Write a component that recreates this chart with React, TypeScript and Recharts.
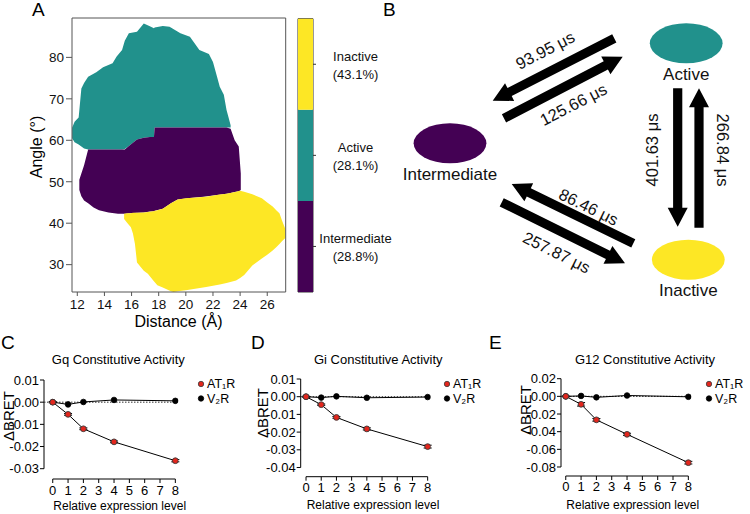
import React from 'react';
import {
  ComposedChart, Area, XAxis, YAxis, ReferenceArea, ReferenceLine,
  BarChart, Bar, ScatterChart, Scatter, LineChart, Line, ErrorBar,
} from 'recharts';

const FONT = '"Liberation Sans", Arial, Helvetica, sans-serif';
const PURPLE = '#440154';
const TEAL = '#21918c';
const YELLOW = '#fde725';
const RED = '#e3261d';
const stateColors: Record<string, string> = { Intermediate: PURPLE, Active: TEAL, Inactive: YELLOW };

// ---------------- Panel A: conformational landscape ----------------
const distanceTicks = [12, 14, 16, 18, 20, 22, 24, 26];
const angleTicks = [30, 40, 50, 60, 70, 80];
const distanceRange = [11.61, 27.36];
const angleRange = [23.4, 89.5];

// [distance (Å), lower angle (°), upper angle (°)]
const activeRegion: number[][] = [
  [11.62, 60.5, 63.0], [11.8, 59.5, 64.5], [12.1, 59.0, 65.5], [12.3, 58.5, 72.5],
  [12.5, 58.0, 73.8], [12.8, 57.8, 75.3], [13.4, 57.8, 76.4], [13.9, 57.8, 77.6],
  [14.6, 57.8, 78.6], [14.9, 57.8, 80.2], [15.3, 57.8, 81.8], [15.5, 57.9, 84.0],
  [15.8, 58.6, 85.8], [16.4, 60.2, 86.2], [16.9, 60.6, 88.2], [17.35, 60.8, 87.5],
  [17.65, 60.8, 87.0], [17.7, 63.1, 87.2], [18.3, 63.1, 87.6], [18.8, 63.1, 87.4],
  [19.6, 63.1, 85.8], [20.3, 63.1, 85.0], [21.0, 63.1, 81.8], [21.7, 63.1, 80.8],
  [22.0, 63.1, 78.9], [22.3, 63.1, 75.3], [22.5, 63.1, 72.9], [22.8, 63.1, 71.0],
  [23.0, 63.1, 67.3], [23.15, 63.1, 65.5], [23.3, 63.1, 63.6],
];
const intermediateRegion: number[][] = [
  [12.15, 48.0, 50.5], [12.3, 46.5, 52.0], [12.5, 45.5, 54.0], [12.8, 44.8, 57.8],
  [13.2, 43.8, 57.8], [13.6, 43.1, 57.8], [14.3, 42.6, 57.8], [15.0, 42.3, 57.8],
  [15.5, 42.3, 57.8], [15.8, 42.4, 58.6], [16.4, 42.5, 60.2], [16.9, 42.6, 60.6],
  [17.35, 42.8, 60.8], [17.65, 42.9, 60.8], [17.7, 43.0, 63.1], [18.3, 43.5, 63.1],
  [18.9, 44.8, 63.1], [19.4, 45.7, 63.1], [20.3, 46.1, 63.1], [21.3, 46.4, 63.1],
  [22.3, 46.8, 63.1], [23.0, 47.1, 63.1], [23.3, 47.3, 62.8], [23.6, 47.5, 60.0],
  [23.9, 47.7, 58.5], [24.05, 48.0, 52.0],
];
const inactiveRegion: number[][] = [
  [15.45, 41.0, 42.3], [15.7, 40.0, 42.4], [15.95, 39.0, 42.4], [16.1, 37.5, 42.5],
  [16.25, 35.0, 42.5], [16.4, 30.5, 42.5], [16.9, 28.5, 42.6], [17.2, 27.8, 42.7],
  [17.6, 26.2, 42.9], [17.9, 25.0, 43.1], [18.3, 24.5, 43.5], [18.9, 23.6, 44.8],
  [19.1, 23.4, 45.2], [19.4, 23.6, 45.7], [20.0, 23.8, 46.0], [21.5, 24.6, 46.4],
  [22.5, 25.2, 46.9], [23.0, 25.6, 47.1], [23.7, 26.2, 47.6], [24.0, 26.8, 47.8],
  [24.3, 27.5, 47.6], [24.9, 29.8, 47.0], [25.6, 31.5, 46.0], [26.0, 32.4, 45.0],
  [26.4, 33.4, 44.0], [26.7, 34.3, 43.0], [26.9, 35.0, 42.4], [27.1, 35.7, 40.5],
  [27.35, 36.5, 38.5],
];
const stateShares = [
  { state: 'Intermediate', share: 28.8 },
  { state: 'Active', share: 28.1 },
  { state: 'Inactive', share: 43.1 },
];

// ---------------- Panel B: transition kinetics ----------------
const stateNodes = [
  { state: 'Active', x: 306.2, y: 43.3 },
  { state: 'Intermediate', x: 70, y: 143.3 },
  { state: 'Inactive', x: 308.3, y: 259.7 },
];
const transitions = [
  { from: 'Active', to: 'Intermediate', time: '93.95 μs', x1: 234.3, y1: 38.3, x2: 112.7, y2: 100.7, lx: 165, ly: 50, angle: -27.2 },
  { from: 'Intermediate', to: 'Active', time: '125.66 μs', x1: 124, y1: 118.3, x2: 242.7, y2: 56.7, lx: 193.3, ly: 104.2, angle: -27.2 },
  { from: 'Active', to: 'Inactive', time: '401.63 μs', x1: 297.7, y1: 88.3, x2: 297.7, y2: 226.7, lx: 271.7, ly: 150, angle: -90 },
  { from: 'Inactive', to: 'Active', time: '266.84 μs', x1: 319, y1: 227.7, x2: 319, y2: 88.3, lx: 342.5, ly: 150, angle: 90 },
  { from: 'Inactive', to: 'Intermediate', time: '86.46 μs', x1: 253.3, y1: 243.3, x2: 131.7, y2: 184, lx: 208.7, ly: 206.7, angle: 26 },
  { from: 'Intermediate', to: 'Inactive', time: '257.87 μs', x1: 121.7, y1: 202.3, x2: 245, y2: 263.3, lx: 176.7, ly: 252.3, angle: 26.5 },
];

// ---------------- Panels C–E: constitutive activity ----------------
const expressionLevels = [0, 1, 2, 4, 8];
const expressionTicks = [0, 1, 2, 3, 4, 5, 6, 7, 8];
const gqAT1R = [0, -0.0055, -0.012, -0.0179, -0.0264];
const gqAT1RErr = [0.0003, 0.0004, 0.0004, 0.0004, 0.0005];
const gqV2R = [0, -0.001, 0.0001, 0.001, 0.0006];
const giAT1R = [0, -0.0045, -0.0117, -0.0182, -0.0282];
const giAT1RErr = [0.0003, 0.0004, 0.0005, 0.0006, 0.0008];
const giV2R = [0, -0.0005, 0.0002, -0.0006, -0.0002];
const g12AT1R = [0, -0.009, -0.0266, -0.043, -0.0751];
const g12AT1RErr = [0.0005, 0.002, 0.0015, 0.0012, 0.0015];
const g12V2R = [0, 0.0005, -0.0011, 0.001, -0.0005];
const gqTicks = [0.01, 0, -0.01, -0.02, -0.03];
const giTicks = [0.01, 0, -0.01, -0.02, -0.03, -0.04];
const g12Ticks = [0.02, 0, -0.02, -0.04, -0.06, -0.08];
const receptorEntries = [
  { label: 'AT₁R', color: RED, stroke: '#3a3a3a' },
  { label: 'V₂R', color: '#000', stroke: '#000' },
];

const buildRows = (at1r: number[], err: number[], v2r: number[]) =>
  expressionLevels.map((level, i) => ({ level, at1r: at1r[i], at1rErr: err[i], v2r: v2r[i] }));

// ---------------- helpers ----------------
const Txt = ({ cx, cy, size, rotate = 0, children }: any) => (
  <div
    style={{
      position: 'absolute', left: cx, top: cy, height: size,
      lineHeight: `${size}px`, fontSize: size, fontFamily: FONT,
      whiteSpace: 'nowrap', color: '#000',
      transform: `translate(-50%, -50%)${rotate ? ` rotate(${rotate}deg)` : ''}`,
      transformOrigin: 'center center',
    }}
  >
    {children}
  </div>
);

const PanelLetter = ({ left, top, children }: any) => (
  <div style={{ position: 'absolute', left, top, fontSize: 19, lineHeight: '19px', fontFamily: FONT, color: '#000' }}>
    {children}
  </div>
);

const toArea = (rows: number[][]) => rows.map(([distance, lo, hi]) => ({ distance, angle: [lo, hi] }));

const ColorbarTick = (p: any) => {
  const { x, y, payload } = p;
  const s = stateShares[Math.floor(payload.value)];
  const cx = x + 37.5;
  return (
    <text textAnchor="middle" fontSize={13} fontFamily={FONT} fill="#111">
      <tspan x={cx} y={y - 3}>{s.state}</tspan>
      <tspan x={cx} y={y + 14.5}>({s.share.toFixed(1)}%)</tspan>
    </text>
  );
};

const ArrowShape = (p: any) => {
  const { x1, y1, x2, y2 } = p;
  const dx = x2 - x1;
  const dy = y2 - y1;
  const len = Math.hypot(dx, dy) || 1;
  const ux = dx / len;
  const uy = dy / len;
  const nx = -uy;
  const ny = ux;
  const w = 4.6;
  const hw = 10;
  const hl = 19;
  const bx = x2 - ux * hl;
  const by = y2 - uy * hl;
  const pts = [
    [x1 + nx * w, y1 + ny * w], [bx + nx * w, by + ny * w], [bx + nx * hw, by + ny * hw], [x2, y2],
    [bx - nx * hw, by - ny * hw], [bx - nx * w, by - ny * w], [x1 - nx * w, y1 - ny * w],
  ];
  return <polygon points={pts.map((q) => q.join(',')).join(' ')} fill="#000" />;
};

const StateNode = (p: any) => {
  const { cx, cy, payload } = p;
  return (
    <g>
      <ellipse cx={cx} cy={cy} rx={36.4} ry={20} fill={stateColors[payload.state]} />
      <text x={cx} y={cy + 36.5} textAnchor="middle" fontSize={17} fontFamily={FONT} fill="#111">
        {payload.state}
      </text>
    </g>
  );
};

const TimeLabel = (p: any) => {
  const { cx, cy, payload } = p;
  return (
    <text
      x={cx} y={cy} textAnchor="middle" dominantBaseline="central" fontSize={16.5} fontFamily={FONT}
      fill="#111" transform={`rotate(${payload.angle}, ${cx}, ${cy})`}
    >
      {payload.time}
    </text>
  );
};

// ---------------- Panels ----------------
function PanelA() {
  return (
    <>
      <div style={{ position: 'absolute', left: 0, top: 0, width: 300, height: 330 }}>
        <ComposedChart width={300} height={330} margin={{ top: 18, right: 14.3, bottom: 0, left: 22 }}>
          <XAxis
            type="number" dataKey="distance" domain={distanceRange} ticks={distanceTicks} allowDataOverflow
            axisLine={false} tickLine={{ stroke: '#555' }} tickSize={4} tickMargin={3} height={38} interval={0}
            tick={{ fontSize: 13.5, fill: '#111', fontFamily: FONT }}
          />
          <YAxis
            type="number" domain={angleRange} ticks={angleTicks} allowDataOverflow axisLine={false}
            tickLine={{ stroke: '#555' }} tickSize={6} tickMargin={2} width={50} interval={0}
            tick={{ fontSize: 13.5, fill: '#111', fontFamily: FONT }}
          />
          <Area data={toArea(activeRegion)} dataKey="angle" type="linear" stroke="none" fill={TEAL}
            fillOpacity={1} isAnimationActive={false} dot={false} activeDot={false} />
          <Area data={toArea(intermediateRegion)} dataKey="angle" type="linear" stroke="none" fill={PURPLE}
            fillOpacity={1} isAnimationActive={false} dot={false} activeDot={false} />
          <Area data={toArea(inactiveRegion)} dataKey="angle" type="linear" stroke="none" fill={YELLOW}
            fillOpacity={1} isAnimationActive={false} dot={false} activeDot={false} />
          <ReferenceArea x1={distanceRange[0]} x2={distanceRange[1]} y1={angleRange[0]} y2={angleRange[1]}
            fill="none" fillOpacity={0} stroke="#555" strokeWidth={1} ifOverflow="visible" />
        </ComposedChart>
      </div>
      <div style={{ position: 'absolute', left: 290, top: 0, width: 112, height: 310 }}>
        <BarChart
          width={112} height={310} data={[{ name: 'states', ...Object.fromEntries(stateShares.map((s) => [s.state, 1])) }]}
          margin={{ top: 18.7, right: 12, bottom: 18, left: 8 }} barCategoryGap={0}
        >
          <XAxis dataKey="name" hide />
          <YAxis
            orientation="right" type="number" domain={[0, stateShares.length]}
            ticks={stateShares.map((_, i) => i + 0.5)} width={77} axisLine={false}
            tickLine={{ stroke: '#333' }} tickSize={3} tickMargin={2} tick={<ColorbarTick />} interval={0}
          />
          {stateShares.map((s) => (
            <Bar key={s.state} dataKey={s.state} stackId="cb" fill={stateColors[s.state]} isAnimationActive={false} />
          ))}
          <ReferenceArea y1={0} y2={stateShares.length} fill="none" fillOpacity={0} stroke="#333" ifOverflow="visible" />
        </BarChart>
      </div>
      <Txt cx={36.5} cy={147} size={16} rotate={-90}>Angle (°)</Txt>
      <Txt cx={178.5} cy={322} size={16}>Distance (Å)</Txt>
    </>
  );
}

function PanelB() {
  const transitionLabels = transitions.map((t) => ({ x: t.lx, y: t.ly, time: t.time, angle: t.angle }));
  return (
    <div style={{ position: 'absolute', left: 380, top: 0, width: 370, height: 310 }}>
      <ScatterChart width={370} height={310} margin={{ top: 0, right: 0, bottom: 0, left: 0 }}>
        <XAxis type="number" dataKey="x" domain={[0, 370]} hide />
        <YAxis type="number" dataKey="y" domain={[0, 310]} reversed hide />
        {transitions.map((t) => (
          <ReferenceLine
            key={t.time} segment={[{ x: t.x1, y: t.y1 }, { x: t.x2, y: t.y2 }]}
            shape={ArrowShape} ifOverflow="visible"
          />
        ))}
        <Scatter data={stateNodes} shape={StateNode} isAnimationActive={false} />
        <Scatter data={transitionLabels} shape={TimeLabel} isAnimationActive={false} />
      </ScatterChart>
    </div>
  );
}

const tickStyle = { fontSize: 13, fill: '#000', fontFamily: FONT };

function ActivityPanel(props: any) {
  const { left, rows, yMin, yTicks, xMin, marginTop, marginRight, yWidth, xHeight, tickMarginX } = props;
  const yMax = Math.max(...yTicks);
  const yLow = Math.min(...yTicks);
  return (
    <div style={{ position: 'absolute', left, top: 360, width: 250, height: 154 }}>
      <LineChart width={250} height={154} data={rows} margin={{ top: marginTop, right: marginRight, bottom: 0, left: 0 }}>
        <XAxis
          type="number" dataKey="level" domain={[xMin, 8.2]} ticks={expressionTicks} allowDataOverflow
          axisLine={false} tickLine={{ stroke: '#000' }} tickSize={4} tickMargin={tickMarginX} height={xHeight}
          tick={tickStyle} interval={0}
        />
        <YAxis
          type="number" domain={[yMin, yMax]} ticks={yTicks} allowDataOverflow axisLine={false}
          tickLine={{ stroke: '#000' }} tickSize={4} tickMargin={1} width={yWidth} tick={tickStyle} interval={0}
          tickFormatter={(v: number) => (Math.abs(v) < 1e-9 ? '0.00' : v.toFixed(2))}
        />
        <ReferenceLine segment={[{ x: xMin, y: yMax }, { x: xMin, y: yLow }]} stroke="#000" ifOverflow="visible" />
        <ReferenceLine segment={[{ x: 0, y: yMin }, { x: 8, y: yMin }]} stroke="#000" ifOverflow="visible" />
        <ReferenceLine segment={[{ x: xMin, y: 0 }, { x: 8, y: 0 }]} stroke="#333" strokeDasharray="1.5 1.5" ifOverflow="visible" />
        <Line
          dataKey="v2r" type="linear" stroke="#000" strokeWidth={1} isAnimationActive={false}
          dot={{ r: 2.8, fill: '#000', stroke: '#000', strokeWidth: 0.8 }} activeDot={false}
        />
        <Line
          dataKey="at1r" type="linear" stroke="#000" strokeWidth={1} isAnimationActive={false}
          dot={{ r: 2.9, fill: RED, stroke: '#3a3a3a', strokeWidth: 0.9 }} activeDot={false}
        >
          <ErrorBar dataKey="at1rErr" width={4} stroke="#000" strokeWidth={1} direction="y" />
        </Line>
      </LineChart>
    </div>
  );
}

const ReceptorKey = ({ dotX }: any) => (
  <svg
    width={50} height={30}
    style={{ position: 'absolute', left: dotX - 4, top: 376, overflow: 'visible' }}
  >
    {receptorEntries.map((e, i) => (
      <g key={e.label}>
        <circle cx={4} cy={8 + i * 14.5} r={2.7} fill={e.color} stroke={e.stroke} strokeWidth={0.8} />
        <text x={10} y={8 + i * 14.5} dominantBaseline="central" fontSize={12.5} fontFamily={FONT} fill="#000">
          {e.label}
        </text>
      </g>
    ))}
  </svg>
);

export default function App() {
  return (
    <div style={{ position: 'absolute', left: 0, top: 0, width: 750, height: 514, background: '#fff', overflow: 'hidden' }}>
      <PanelA />
      <PanelB />
      <ActivityPanel
        left={0} rows={buildRows(gqAT1R, gqAT1RErr, gqV2R)} yMin={-0.03465} yTicks={gqTicks} xMin={-0.57}
        marginTop={20} marginRight={71.6} yWidth={44} xHeight={35} tickMarginX={2.5}
      />
      <ActivityPanel
        left={250} rows={buildRows(giAT1R, giAT1RErr, giV2R)} yMin={-0.0452} yTicks={giTicks} xMin={-0.35}
        marginTop={19} marginRight={69.3} yWidth={50.7} xHeight={37.3} tickMarginX={2}
      />
      <ActivityPanel
        left={500} rows={buildRows(g12AT1R, g12AT1RErr, g12V2R)} yMin={-0.0902} yTicks={g12Ticks} xMin={-0.31}
        marginTop={18.7} marginRight={58.6} yWidth={61} xHeight={38} tickMarginX={2}
      />
      <Txt cx={118.3} cy={358.7} size={13}>Gq Constitutive Activity</Txt>
      <Txt cx={378.3} cy={358.7} size={13}>Gi Constitutive Activity</Txt>
      <Txt cx={645} cy={358.7} size={13}>G12 Constitutive Activity</Txt>
      <Txt cx={119.7} cy={505.5} size={12}>Relative expression level</Txt>
      <Txt cx={373} cy={505} size={12}>Relative expression level</Txt>
      <Txt cx={632.7} cy={505} size={12}>Relative expression level</Txt>
      <Txt cx={7.5} cy={416} size={15} rotate={-90}>ΔBRET</Txt>
      <Txt cx={261.5} cy={413} size={15} rotate={-90}>ΔBRET</Txt>
      <Txt cx={525} cy={410} size={15} rotate={-90}>ΔBRET</Txt>
      <ReceptorKey dotX={201} />
      <ReceptorKey dotX={447.3} />
      <ReceptorKey dotX={709.3} />
      <PanelLetter left={32} top={-0.5}>A</PanelLetter>
      <PanelLetter left={383} top={-0.5}>B</PanelLetter>
      <PanelLetter left={1} top={332.5}>C</PanelLetter>
      <PanelLetter left={251} top={332.5}>D</PanelLetter>
      <PanelLetter left={489} top={332.5}>E</PanelLetter>
    </div>
  );
}
